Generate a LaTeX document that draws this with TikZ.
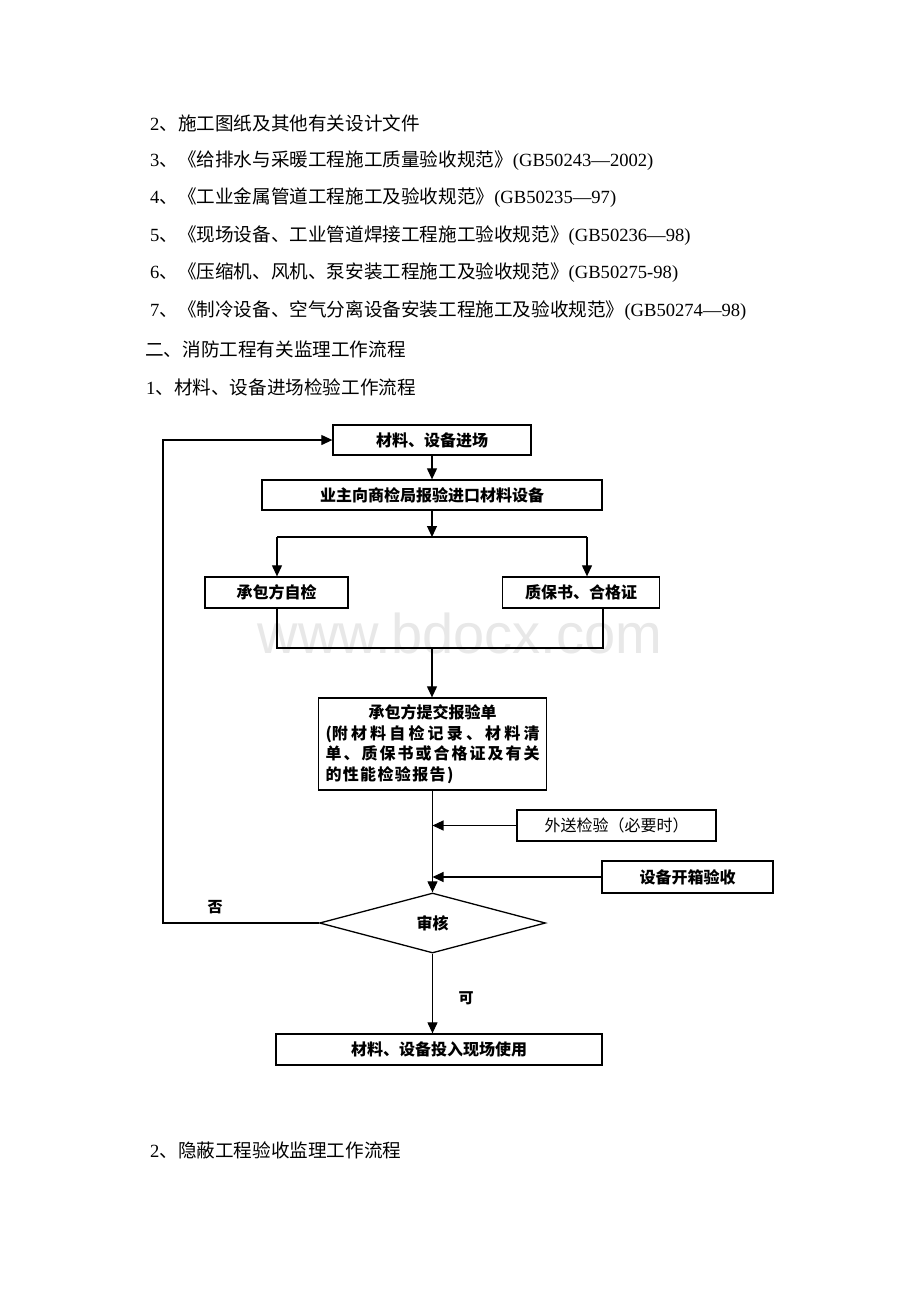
\documentclass[tikz,border=0pt]{standalone}
\usepackage{fontspec}
\setmainfont{Liberation Serif}
\newfontfamily\cjk{Noto Sans CJK SC}
\newfontfamily\wmfont{Liberation Sans}
\usetikzlibrary{arrows.meta,shapes.geometric}
\begin{document}
\begin{tikzpicture}[x=1pt,y=-1pt,
  box/.style={draw,line width=1.3pt,inner sep=0pt,font=\cjk\bfseries\fontsize{16}{18}\selectfont},
  conn/.style={line width=1.1pt},
  arr/.style={line width=1.1pt,-{Triangle[length=11pt,width=10pt]}},
  bodytext/.style={anchor=west,inner sep=0pt,font=\fontsize{18.6}{20}\selectfont},
  lbl/.style={inner sep=0pt,font=\cjk\bfseries\fontsize{15}{17}\selectfont}]
\fill[white] (0,0) rectangle (920,1302);
\useasboundingbox (0,0) rectangle (920,1302);
% watermark
\node[text=black!9,font=\wmfont\fontsize{56}{60}\selectfont,inner sep=0pt] (wm) at (460,633) {www.bdocx.com};
% body text
\node[bodytext] (t2) at (150,123) {2{\cjk 、施工图纸及其他有关设计文件}};
\node[bodytext] (t3) at (150,161) {3{\cjk 、《给排水与采暖工程施工质量验收规范》}(GB50243—2002)};
\node[bodytext] (t4) at (150,198) {4{\cjk 、《工业金属管道工程施工及验收规范》}(GB50235—97)};
\node[bodytext] (t5) at (150,236) {5{\cjk 、《现场设备、工业管道焊接工程施工验收规范》}(GB50236—98)};
\node[bodytext] (t6) at (150,273) {6{\cjk 、《压缩机、风机、泵安装工程施工及验收规范》}(GB50275-98)};
\node[bodytext] (t7) at (150,311) {7{\cjk 、《制冷设备、空气分离设备安装工程施工及验收规范》}(GB50274—98)};
\node[bodytext] (h2) at (145,349) {\cjk 二、消防工程有关监理工作流程};
\node[bodytext] (h1) at (146,387) {1{\cjk 、材料、设备进场检验工作流程}};
\node[bodytext] (tb) at (150,1150) {2{\cjk 、隐蔽工程验收监理工作流程}};
% boxes
\node[box,minimum width=198pt,minimum height=30pt] (b1) at (432,440) {材料、设备进场};
\node[box,minimum width=340pt,minimum height=30pt] (b2) at (432,495) {业主向商检局报验进口材料设备};
\node[box,minimum width=143pt,minimum height=31pt] (b3) at (276.5,592.5) {承包方自检};
\node[box,minimum width=157pt,minimum height=31pt] (b4) at (581,592.5) {质保书、合格证};
\node[box,minimum width=228pt,minimum height=92pt,align=left,font=\cjk\bfseries\fontsize{16}{20.5}\selectfont] (b5) at (432.5,744)
  {\makebox[214pt][c]{承包方提交报验单}\\
   \makebox[214pt][s]{(附\hfil 材\hfil 料\hfil 自\hfil 检\hfil 记\hfil 录\hfil 、\hfil 材\hfil 料\hfil 清}\\
   \makebox[214pt][s]{单\hfil 、\hfil 质\hfil 保\hfil 书\hfil 或\hfil 合\hfil 格\hfil 证\hfil 及\hfil 有\hfil 关}\\
   \makebox[214pt][l]{\makebox[128pt][s]{的\hfil 性\hfil 能\hfil 检\hfil 验\hfil 报\hfil 告\hfil )}}};
\node[box,minimum width=199pt,minimum height=31pt,font=\cjk\fontsize{16}{18}\selectfont] (b6) at (616.5,825.5) {外送检验（必要时）};
\node[box,minimum width=171pt,minimum height=32pt] (b7) at (687.5,877) {设备开箱验收};
\node[box,shape=diamond,aspect=3.77,minimum width=226pt,minimum height=60pt] (dia) at (432.5,923) {审核};
\node[box,minimum width=326pt,minimum height=31pt] (b8) at (439,1049.5) {材料、设备投入现场使用};
% labels
\node[lbl] (no) at (215,907) {否};
\node[lbl] (ok) at (466,998) {可};
% coordinates
\coordinate (br) at (432,537);
\coordinate (brL) at (277,537);
\coordinate (brR) at (587,537);
\coordinate (j1) at (277,648);
\coordinate (j2) at (603,648);
\coordinate (jm) at (432,648);
\coordinate (lp) at (163,923);
% connectors
\draw[arr] (b1.south) -- (b2.north);
\draw[arr] (b2.south) -- (br);
\draw[conn] (brL) -- (brR);
\draw[arr] (brL) -- (brL |- b3.north);
\draw[arr] (brR) -- (brR |- b4.north);
\draw[conn] (b3.south -| j1) -- (j1) -- (j2) -- (j2 |- b4.south);
\draw[arr] (jm) -- (jm |- b5.north);
\draw[arr] (b5.south) -- (dia.north);
\draw[arr] (b6.west) -- (b6.west -| b5.south);
\draw[arr] (b7.west) -- (b7.west -| b5.south);
\draw[arr] (dia.west) -- (lp) |- (b1.west);
\draw[arr] (dia.south) -- (dia.south |- b8.north);
\end{tikzpicture}
\end{document}
